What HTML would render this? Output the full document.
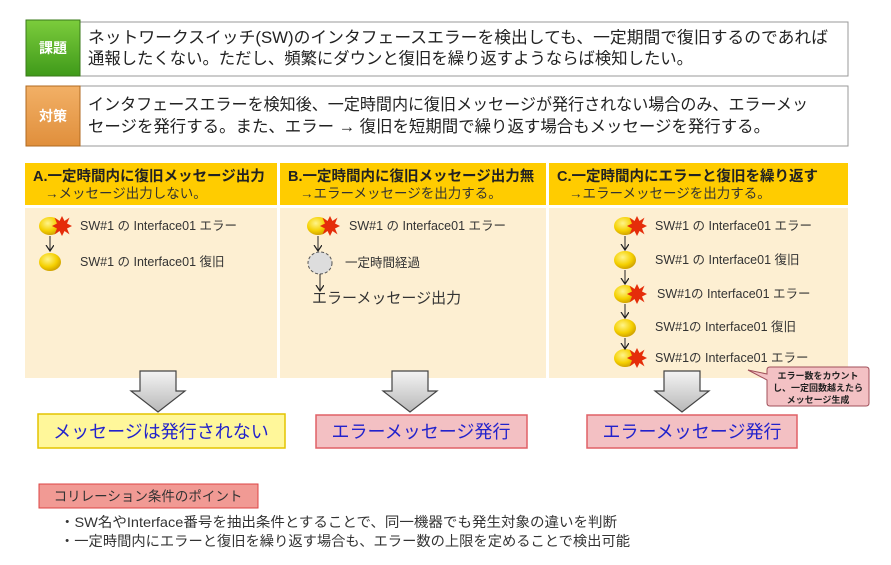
<!DOCTYPE html>
<html><head><meta charset="utf-8"><style>
body{margin:0;background:#fff;width:891px;height:560px;overflow:hidden}
svg text{font-family:"Liberation Sans","Noto Sans CJK JP",sans-serif}
</style></head><body>
<svg width="891" height="560" viewBox="0 0 891 560" xmlns="http://www.w3.org/2000/svg">
<defs>
<linearGradient id="gg" x1="0" y1="0" x2="0" y2="1"><stop offset="0" stop-color="#7ccc3c"/><stop offset="1" stop-color="#3f9a1a"/></linearGradient>
<linearGradient id="og" x1="0" y1="0" x2="0" y2="1"><stop offset="0" stop-color="#f2b066"/><stop offset="1" stop-color="#e08f3c"/></linearGradient>
<radialGradient id="yb" cx="0.4" cy="0.35" r="0.7"><stop offset="0" stop-color="#fff48a"/><stop offset="0.6" stop-color="#f5d000"/><stop offset="1" stop-color="#c99a00"/></radialGradient>
<linearGradient id="ar" x1="0" y1="0" x2="0" y2="1"><stop offset="0" stop-color="#f4f4f4"/><stop offset="1" stop-color="#b8b8b8"/></linearGradient>
<marker id="ah" markerWidth="8" markerHeight="10" refX="6" refY="4" orient="auto" markerUnits="userSpaceOnUse"><path d="M0,0 L6,4 L0,8" fill="none" stroke="#222" stroke-width="1.2"/></marker>
<symbol id="star" viewBox="-12 -12 24 24"><polygon points="0,-12 3,-6 9,-10 6,-3 12,0 6,3 9,10 3,6 0,12 -3,6 -9,10 -6,3 -12,0 -6,-3 -9,-10 -3,-6" fill="#e52d0a"/></symbol>
</defs>
<!-- top boxes -->
<rect x="80" y="22" width="768" height="54" fill="#fff" stroke="#999"/>
<rect x="26" y="20" width="54" height="56" fill="url(#gg)" stroke="#3a7a1a"/>
<text x="53" y="53" font-size="14" fill="#fff" text-anchor="middle" font-weight="bold">課題</text>
<text x="88" y="43" font-size="16.5" fill="#222" textLength="740" lengthAdjust="spacingAndGlyphs">ネットワークスイッチ(SW)のインタフェースエラーを検出しても、一定期間で復旧するのであれば</text>
<text x="88" y="64" font-size="16.5" fill="#222" textLength="605" lengthAdjust="spacingAndGlyphs">通報したくない。ただし、頻繁にダウンと復旧を繰り返すようならば検知したい。</text>
<rect x="80" y="86" width="768" height="60" fill="#fff" stroke="#999"/>
<rect x="26" y="86" width="54" height="60" fill="url(#og)" stroke="#b06a20"/>
<text x="53" y="121" font-size="14" fill="#fff" text-anchor="middle" font-weight="bold">対策</text>
<text x="88" y="110" font-size="16.5" fill="#222" textLength="720" lengthAdjust="spacingAndGlyphs">インタフェースエラーを検知後、一定時間内に復旧メッセージが発行されない場合のみ、エラーメッ</text>
<text x="88" y="132" font-size="16.5" fill="#222" textLength="682" lengthAdjust="spacingAndGlyphs">セージを発行する。また、エラー → 復旧を短期間で繰り返す場合もメッセージを発行する。</text>
<!-- columns -->
<rect x="25" y="163" width="252" height="42" fill="#ffcc00"/>
<rect x="280" y="163" width="266" height="42" fill="#ffcc00"/>
<rect x="549" y="163" width="299" height="42" fill="#ffcc00"/>
<rect x="25" y="208" width="252" height="170" fill="#fdefd2"/>
<rect x="280" y="208" width="266" height="170" fill="#fdefd2"/>
<rect x="549" y="208" width="299" height="170" fill="#fdefd2"/>
<text x="33" y="181" font-size="14.5" font-weight="bold" fill="#222">A.一定時間内に復旧メッセージ出力</text>
<text x="45" y="198" font-size="13.5" fill="#333">→メッセージ出力しない。</text>
<text x="288" y="181" font-size="14.5" font-weight="bold" fill="#222">B.一定時間内に復旧メッセージ出力無</text>
<text x="300" y="198" font-size="13.5" fill="#333">→エラーメッセージを出力する。</text>
<text x="557" y="181" font-size="14.5" font-weight="bold" fill="#222">C.一定時間内にエラーと復旧を繰り返す</text>
<text x="569" y="198" font-size="13.5" fill="#333">→エラーメッセージを出力する。</text>
<g font-size="12.5" fill="#333">
<ellipse cx="50" cy="226" rx="11" ry="9" fill="url(#yb)"/><use href="#star" x="52" y="216" width="20" height="20"/>
<line x1="50" y1="236" x2="50" y2="251" stroke="#222" marker-end="url(#ah)"/>
<ellipse cx="50" cy="262" rx="11" ry="9" fill="url(#yb)"/>
<text x="80" y="230">SW#1 の Interface01 エラー</text>
<text x="80" y="266">SW#1 の Interface01 復旧</text>
<ellipse cx="318" cy="226" rx="11" ry="9" fill="url(#yb)"/><use href="#star" x="320" y="216" width="20" height="20"/>
<line x1="318" y1="236" x2="318" y2="251" stroke="#222" marker-end="url(#ah)"/>
<ellipse cx="320" cy="263" rx="12" ry="11" fill="#ddd" stroke="#555" stroke-dasharray="3,2"/>
<line x1="320" y1="274" x2="320" y2="291" stroke="#222" marker-end="url(#ah)"/>
<text x="349" y="230">SW#1 の Interface01 エラー</text>
<text x="345" y="267">一定時間経過</text>
<text x="312" y="303" font-size="15">エラーメッセージ出力</text>
<ellipse cx="625" cy="226" rx="11" ry="9" fill="url(#yb)"/><use href="#star" x="627" y="216" width="20" height="20"/>
<ellipse cx="625" cy="260" rx="11" ry="9" fill="url(#yb)"/>
<ellipse cx="625" cy="294" rx="11" ry="9" fill="url(#yb)"/><use href="#star" x="627" y="284" width="20" height="20"/>
<ellipse cx="625" cy="328" rx="11" ry="9" fill="url(#yb)"/>
<ellipse cx="625" cy="358" rx="11" ry="9" fill="url(#yb)"/><use href="#star" x="627" y="348" width="20" height="20"/>
<line x1="625" y1="236" x2="625" y2="250" stroke="#222" marker-end="url(#ah)"/>
<line x1="625" y1="270" x2="625" y2="284" stroke="#222" marker-end="url(#ah)"/>
<line x1="625" y1="304" x2="625" y2="318" stroke="#222" marker-end="url(#ah)"/>
<line x1="625" y1="338" x2="625" y2="349" stroke="#222" marker-end="url(#ah)"/>
<text x="655" y="230">SW#1 の Interface01 エラー</text>
<text x="655" y="264">SW#1 の Interface01 復旧</text>
<text x="657" y="298">SW#1の Interface01 エラー</text>
<text x="655" y="331">SW#1の Interface01 復旧</text>
<text x="655" y="362">SW#1の Interface01 エラー</text>
</g>
<path d="M770,367 L866,367 Q869,367 869,370 L869,403 Q869,406 866,406 L770,406 Q767,406 767,403 L767,380 L748,370 L767,374 L767,370 Q767,367 770,367 Z" fill="#f3c1c4" stroke="#a0505a"/>
<text x="818" y="379" font-size="9" font-weight="bold" fill="#222" text-anchor="middle">エラー数をカウント</text>
<text x="818" y="391" font-size="9" font-weight="bold" fill="#222" text-anchor="middle">し、一定回数越えたら</text>
<text x="818" y="403" font-size="9" font-weight="bold" fill="#222" text-anchor="middle">メッセージ生成</text>
<g fill="url(#ar)" stroke="#444" stroke-width="1.2">
<path d="M140,371 L176,371 L176,391 L185,391 L158,412 L131,391 L140,391 Z"/>
<path d="M392,371 L428,371 L428,391 L437,391 L410,412 L383,391 L392,391 Z"/>
<path d="M664,371 L700,371 L700,391 L709,391 L682,412 L655,391 L664,391 Z"/>
</g>
<rect x="38" y="414" width="247" height="34" fill="#fff79a" stroke="#e3c400" stroke-width="1.5"/>
<text x="161" y="438" font-size="18" fill="#2222cc" text-anchor="middle">メッセージは発行されない</text>
<rect x="316" y="415" width="211" height="33" fill="#f3c0c3" stroke="#e06066" stroke-width="1.5"/>
<text x="421" y="438" font-size="18" fill="#2222cc" text-anchor="middle">エラーメッセージ発行</text>
<rect x="587" y="415" width="210" height="33" fill="#f3c0c3" stroke="#e06066" stroke-width="1.5"/>
<text x="692" y="438" font-size="18" fill="#2222cc" text-anchor="middle">エラーメッセージ発行</text>
<rect x="39" y="484" width="219" height="24" fill="#f19a94" stroke="#d44" stroke-width="1"/>
<text x="148" y="501" font-size="13.5" fill="#333" text-anchor="middle">コリレーション条件のポイント</text>
<text x="60" y="527" font-size="14" fill="#333" textLength="557" lengthAdjust="spacingAndGlyphs">・SW名やInterface番号を抽出条件とすることで、同一機器でも発生対象の違いを判断</text>
<text x="60" y="546" font-size="14" fill="#333" textLength="570" lengthAdjust="spacingAndGlyphs">・一定時間内にエラーと復旧を繰り返す場合も、エラー数の上限を定めることで検出可能</text>
</svg>
</body></html>
